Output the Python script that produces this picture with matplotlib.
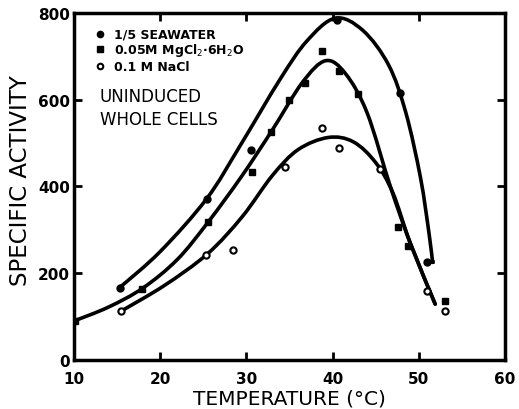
import matplotlib
matplotlib.use("Agg")
import matplotlib.pyplot as plt
from matplotlib.path import Path
from matplotlib.patches import PathPatch

# points (temperature degC, specific activity)
sea_t = [15.3, 25.4, 30.5, 40.5, 47.8, 50.9]
sea_a = [167, 372, 484, 783, 615, 225]

mg_t = [10.1, 17.9, 25.6, 30.6, 32.9, 35.0, 36.8, 38.8, 40.7, 43.0, 47.6, 48.8, 53.0]
mg_a = [90, 164, 319, 434, 526, 600, 638, 713, 667, 613, 306, 262, 137]

na_t = [15.4, 25.3, 28.5, 34.5, 38.8, 40.8, 45.5, 50.9, 53.0]
na_a = [112, 242, 254, 444, 535, 488, 440, 160, 114]

# hand-drawn curves, traced along their path
sea_curve_t = [15.3, 20.0, 25.4, 29.3, 33.9, 37.0, 40.3, 43.5, 46.5, 48.5, 50.2, 51.2, 51.6]
sea_curve_a = [167, 250, 372, 495, 647, 735, 788, 760, 680, 570, 420, 290, 225]

mg_curve_t = [10.0, 14.0, 18.0, 22.0, 25.6, 29.5, 33.0, 36.5, 39.2, 41.5, 44.0, 46.7, 49.0, 51.9]
mg_curve_a = [90, 122, 166, 232, 319, 425, 530, 640, 690, 660, 570, 400, 270, 129]

na_curve_t = [15.4, 20.5, 25.5, 29.5, 33.0, 36.0, 39.5, 42.4, 45.0, 47.0, 49.0, 51.9]
na_curve_a = [112, 172, 245, 330, 425, 485, 513, 503, 455, 385, 270, 129]


def smooth_path(xs, ys):
    # Catmull-Rom through the traced points, as cubic Bezier segments
    pts = list(zip(xs, ys))
    verts = [pts[0]]
    codes = [Path.MOVETO]
    n = len(pts)
    for i in range(n - 1):
        p0 = pts[max(i - 1, 0)]
        p1 = pts[i]
        p2 = pts[i + 1]
        p3 = pts[min(i + 2, n - 1)]
        c1 = (p1[0] + (p2[0] - p0[0]) / 6, p1[1] + (p2[1] - p0[1]) / 6)
        c2 = (p2[0] - (p3[0] - p1[0]) / 6, p2[1] - (p3[1] - p1[1]) / 6)
        verts += [c1, c2, p2]
        codes += [Path.CURVE4] * 3
    return Path(verts, codes)


fig = plt.figure(figsize=(5.19, 4.10), dpi=100)
ax = fig.add_axes([0.1426, 0.1195, 0.8304, 0.8464])

lw = 2.6
for t, a in [(sea_curve_t, sea_curve_a), (mg_curve_t, mg_curve_a), (na_curve_t, na_curve_a)]:
    ax.add_patch(PathPatch(smooth_path(t, a), fill=False, edgecolor="black", lw=lw,
                           capstyle="round", joinstyle="round"))
# little hook at the end of the seawater curve
ax.plot([50.9, 51.6], [225, 225], color="black", lw=lw)

ax.plot(sea_t, sea_a, "o", color="black", ms=5)
ax.plot(mg_t, mg_a, "s", color="black", ms=4.5)
ax.plot(na_t, na_a, "o", mfc="white", mec="black", mew=1.5, ms=4.5)

ax.set_xlim(10, 60)
ax.set_ylim(0, 800)
ax.set_xticks([10, 20, 30, 40, 50, 60])
ax.set_yticks([0, 200, 400, 600, 800])
ax.tick_params(direction="in", length=6, width=2, top=True, right=True, labelsize=11)
ax.tick_params(axis="x", pad=8)
ax.tick_params(axis="y", pad=3)
for lab in ax.get_xticklabels() + ax.get_yticklabels():
    lab.set_fontweight("bold")
for s in ax.spines.values():
    s.set_linewidth(2.5)

ax.set_xlabel("TEMPERATURE (°C)", fontsize=14.5, labelpad=2)
ax.set_ylabel("SPECIFIC ACTIVITY", fontsize=16.5, fontweight="medium")
ax.yaxis.set_label_coords(-0.098, 0.52)

# legend drawn by hand like the original
leg_y = [751, 716, 677]
ax.plot([13.0], [leg_y[0]], "o", color="black", ms=4.5)
ax.plot([13.0], [leg_y[1]], "s", color="black", ms=4)
ax.plot([13.0], [leg_y[2]], "o", mfc="white", mec="black", mew=1.5, ms=4)
ax.text(14.6, leg_y[0], "1/5 SEAWATER", fontsize=9, fontweight="bold", va="center")
ax.text(14.6, leg_y[1], r"0.05M MgCl$_2$·6H$_2$O", fontsize=9, fontweight="bold", va="center")
ax.text(14.6, leg_y[2], "0.1 M NaCl", fontsize=9, fontweight="bold", va="center")

ax.text(13.0, 608, "UNINDUCED", fontsize=12, va="center")
ax.text(13.0, 555, "WHOLE CELLS", fontsize=12, va="center")

fig.savefig("out.png", dpi=100)
